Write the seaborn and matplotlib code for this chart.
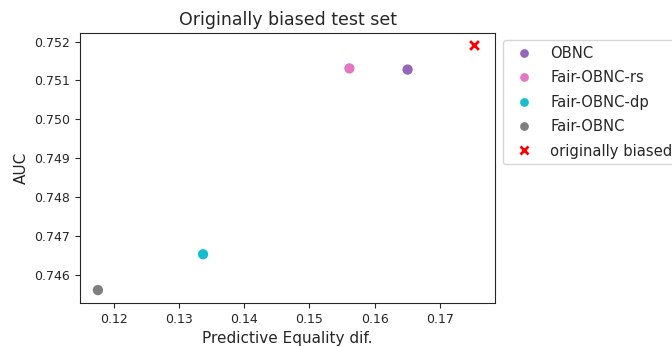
import matplotlib
matplotlib.use("Agg")
import matplotlib.pyplot as plt
import seaborn as sns
import pandas as pd

# Results on the originally biased test set
methods = ["OBNC", "Fair-OBNC-rs", "Fair-OBNC-dp", "Fair-OBNC"]
pred_eq_dif = [0.16505, 0.15613, 0.13368, 0.11755]
auc = [0.75128, 0.75131, 0.74654, 0.74562]
colors = ["tab:purple", "tab:pink", "tab:cyan", "tab:gray"]

baseline_label = "originally biased"
baseline_pred_eq_dif = [0.17521]
baseline_auc = [0.75192]

df = pd.DataFrame({"method": methods, "pred_eq_dif": pred_eq_dif, "auc": auc})
df_base = pd.DataFrame({"method": [baseline_label],
                        "pred_eq_dif": baseline_pred_eq_dif,
                        "auc": baseline_auc})

sns.set_style("ticks")
plt.rcParams["font.family"] = ["DejaVu Sans"]

fig = plt.figure(figsize=(6.72, 3.47), dpi=100)
ax = fig.add_axes([0.119, 0.127, 0.618, 0.778])

sns.scatterplot(data=df, x="pred_eq_dif", y="auc", hue="method",
                hue_order=methods, palette=dict(zip(methods, colors)),
                s=55, linewidth=0, ax=ax)
sns.scatterplot(data=df_base, x="pred_eq_dif", y="auc", hue="method",
                palette={baseline_label: "red"}, marker="x", s=40,
                linewidth=2, ax=ax)

ax.set_xlim(0.1148, 0.1785)
ax.set_ylim(0.74529, 0.75222)
ax.set_xticks([0.12, 0.13, 0.14, 0.15, 0.16, 0.17])
ax.set_yticks([0.746, 0.747, 0.748, 0.749, 0.750, 0.751, 0.752])
ax.tick_params(labelsize=9)
ax.set_xlabel("Predictive Equality dif.", fontsize=11)
ax.set_ylabel("AUC", fontsize=11)
ax.set_title("Originally biased test set", fontsize=12.5)

handles, labels = ax.get_legend_handles_labels()
ax.legend(handles, labels, loc="upper left", bbox_to_anchor=(1.019, 0.974),
          borderaxespad=0, fontsize=10.6, frameon=True, labelspacing=0.64,
          markerscale=0.85, handletextpad=0.8)

fig.savefig("out.png", dpi=100)
